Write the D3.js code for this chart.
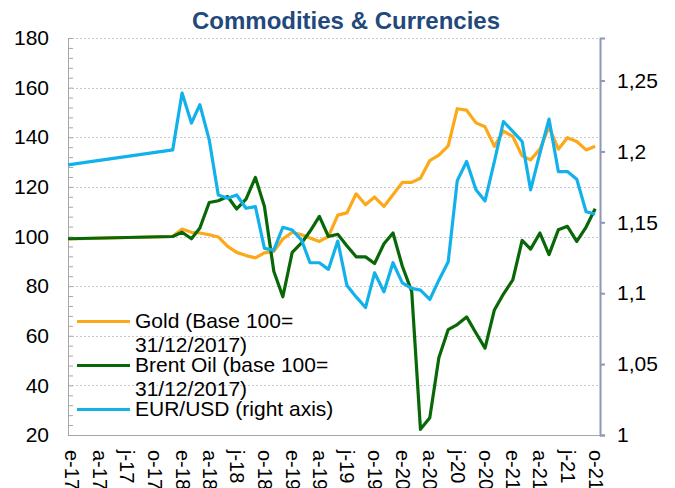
<!DOCTYPE html>
<html>

<head>
    <meta charset="utf-8" />
    <title>Commodities & Currencies</title>
    <script src="https://cdn.jsdelivr.net/npm/d3@7/dist/d3.min.js" charset="utf-8"></script>

    <style type="text/css">
        body {
            margin: 0;
            background: #fff;
        }

        #chart text {
            font-family: "Liberation Sans", Arial, sans-serif;
            fill: #000;
        }

        #chart .line {
            fill: none;
            stroke-width: 3.2px;
            stroke-linejoin: round;
        }

        #chart .grid line {
            stroke: #c8c8c8;
            stroke-dasharray: 2, 2;
        }
    </style>
</head>

<body>

    <div id="chart"></div>

    <script>
        // Provide data (one entry per date):
        var dates = ["2016-12-19", "2017-12-01",
            "2018-01-01", "2018-02-01", "2018-03-01", "2018-04-01", "2018-05-01", "2018-06-01",
            "2018-07-01", "2018-08-01", "2018-09-01", "2018-10-01", "2018-11-01", "2018-12-01",
            "2019-01-01", "2019-02-01", "2019-03-01", "2019-04-01", "2019-05-01", "2019-06-01",
            "2019-07-01", "2019-08-01", "2019-09-01", "2019-10-01", "2019-11-01", "2019-12-01",
            "2020-01-01", "2020-02-01", "2020-03-01", "2020-04-01", "2020-05-01", "2020-06-01",
            "2020-07-01", "2020-08-01", "2020-09-01", "2020-10-01", "2020-11-01", "2020-12-01",
            "2021-01-01", "2021-02-01", "2021-03-01", "2021-04-01", "2021-05-01", "2021-06-01",
            "2021-07-01", "2021-08-01", "2021-09-01", "2021-10-01"
        ]

        var gold = [99, 100,
            103.0, 101.7, 101.4, 100.7, 99.8, 96.0, 93.6, 92.3, 91.4, 93.4, 94.0, 99.0,
            101.7, 100.7, 99.4, 98.0, 100.0, 108.6, 109.5, 117.2, 112.8, 115.9, 112.1, 116.8,
            121.8, 121.8, 123.5, 130.6, 132.8, 136.5, 151.5, 150.9, 145.8, 144.2, 136.3, 142.5,
            140.3, 132.5, 130.9, 135.2, 144.2, 135.2, 139.8, 138.3, 134.9, 136.4
        ]

        var brent = [99.1, 100,
            101.7, 99.1, 103.4, 113.7, 114.4, 116.1, 111.1, 115.1, 123.8, 112.1, 86.0, 75.7,
            93.6, 97.4, 102.1, 108.1, 100.0, 100.9, 96.3, 91.8, 91.8, 89.1, 97.1, 101.4,
            88.0, 77.9, 22.3, 27.0, 51.1, 62.5, 64.5, 67.6, 61.1, 55.0, 70.4, 76.8,
            82.5, 98.4, 94.9, 101.4, 92.7, 102.7, 104.1, 98.0, 103.8, 111.2
        ]

        var eurusd = [1.1905, 1.2011,
            1.2412, 1.2200, 1.2330, 1.2082, 1.1693, 1.1670, 1.1693, 1.1599, 1.1611, 1.1316, 1.1304, 1.1465,
            1.1446, 1.1375, 1.1215, 1.1215, 1.1168, 1.1368, 1.1057, 1.0974, 1.0899, 1.1144, 1.1010, 1.1215,
            1.1073, 1.1034, 1.1022, 1.0956, 1.1092, 1.1222, 1.1794, 1.1929, 1.1729, 1.1651, 1.1929, 1.2211,
            1.2141, 1.2070, 1.1729, 1.1988, 1.2228, 1.1858, 1.1858, 1.1804, 1.1575, 1.1559
        ]

        // Tick values and labels:
        var xTicks = ["2017-01-01", "2017-04-01", "2017-07-01", "2017-10-01",
            "2018-01-01", "2018-04-01", "2018-07-01", "2018-10-01",
            "2019-01-01", "2019-04-01", "2019-07-01", "2019-10-01",
            "2020-01-01", "2020-04-01", "2020-07-01", "2020-10-01",
            "2021-01-01", "2021-04-01", "2021-07-01", "2021-10-01"
        ]
        var xTickLabels = ["e-17", "a-17", "j-17", "o-17", "e-18", "a-18", "j-18", "o-18",
            "e-19", "a-19", "j-19", "o-19", "e-20", "a-20", "j-20", "o-20",
            "e-21", "a-21", "j-21", "o-21"
        ]
        var leftTicks = [20, 40, 60, 80, 100, 120, 140, 160, 180]
        var rightTicks = [1, 1.05, 1.1, 1.15, 1.2, 1.25]

        var seriesNames = [
            ["Gold (Base 100=", "31/12/2017)"],
            ["Brent Oil (base 100=", "31/12/2017)"],
            ["EUR/USD (right axis)"]
        ]
        var seriesColors = ["#fca919", "#086808", "#13b1ec"]

        // Define dimensions:
        var width = 675,
            height = 488,
            plot = {
                left: 68,
                right: 600,
                top: 38,
                bottom: 435
            }

        var parse = d3.timeParse("%Y-%m-%d")
        var rows = dates.map(function(d, i) {
            return {
                date: parse(d),
                gold: gold[i],
                brent: brent[i],
                eurusd: eurusd[i]
            }
        })

        // Define scales:
        var xScale = d3.scaleTime()
            .domain([parse("2016-12-19"), parse("2021-10-17")])
            .range([plot.left, plot.right])

        var yLeft = d3.scaleLinear()
            .domain([20, 180])
            .range([plot.bottom, plot.top])

        var yRight = d3.scaleLinear()
            .domain([1, 1.28])
            .range([plot.bottom, plot.top])

        // Create chart:
        var svg = d3.select("#chart")
            .append("svg")
            .attr("width", width)
            .attr("height", height)

        // Title:
        svg.append("text")
            .attr("x", 346)
            .attr("y", 29)
            .attr("text-anchor", "middle")
            .style("font-size", "24px")
            .style("font-weight", "bold")
            .style("fill", "#22487c")
            .text("Commodities & Currencies")

        // Gridlines:
        svg.append("g")
            .attr("class", "grid")
            .selectAll("line")
            .data(leftTicks.filter(function(d) { return d > 20 }))
            .enter().append("line")
            .attr("x1", plot.left)
            .attr("x2", plot.right)
            .attr("y1", function(d) { return Math.round(yLeft(d)) + 0.5 })
            .attr("y2", function(d) { return Math.round(yLeft(d)) + 0.5 })

        // Left axis (minor ticks inside, labels outside):
        var leftMinor = svg.append("g")
            .attr("transform", "translate(" + plot.left + ",0)")
            .call(d3.axisLeft(yLeft).tickValues(d3.range(20, 181, 4)).tickSize(-5).tickFormat(""))
        leftMinor.selectAll("line, path").attr("stroke", "#a6a6a6")

        var leftLabels = svg.append("g")
            .attr("transform", "translate(" + plot.left + ",0)")
            .call(d3.axisLeft(yLeft).tickValues(leftTicks).tickSize(0).tickPadding(19))
        leftLabels.select(".domain").remove()
        leftLabels.selectAll("text").style("font-size", "21px")

        // Right axis:
        var commaFormat = function(d) {
            return d3.format(".2~f")(d).replace(".", ",")
        }
        var rightAxis = svg.append("g")
            .attr("transform", "translate(" + plot.right + ",0)")
            .call(d3.axisRight(yRight).tickValues(rightTicks).tickSize(5).tickPadding(12).tickFormat(commaFormat))
        rightAxis.selectAll("line, path").attr("stroke", "#8e98b6").attr("stroke-width", 2)
        rightAxis.selectAll("text").style("font-size", "21px")

        // Bottom axis:
        var bottomAxis = svg.append("g")
            .attr("transform", "translate(0," + plot.bottom + ")")
            .call(d3.axisBottom(xScale)
                .tickValues(xTicks.map(parse))
                .tickSize(0)
                .tickFormat(function(d, i) { return xTickLabels[i] }))
        bottomAxis.select(".domain").attr("stroke", "#a6a6a6")
        bottomAxis.selectAll("text")
            .attr("y", 0)
            .attr("x", 0)
            .attr("dy", "0.35em")
            .attr("transform", "translate(0,15) rotate(90)")
            .attr("text-anchor", "start")
            .style("font-size", "20px")

        // Define lines:
        var goldLine = d3.line()
            .x(function(d) { return xScale(d.date) })
            .y(function(d) { return yLeft(d.gold) })

        var brentLine = d3.line()
            .x(function(d) { return xScale(d.date) })
            .y(function(d) { return yLeft(d.brent) })

        var eurLine = d3.line()
            .x(function(d) { return xScale(d.date) })
            .y(function(d) { return yRight(d.eurusd) })

        // Add lines to chart:
        svg.append("path")
            .data([rows])
            .attr("class", "line")
            .attr("d", goldLine)
            .style("stroke", seriesColors[0])

        svg.append("path")
            .data([rows])
            .attr("class", "line")
            .attr("d", brentLine)
            .style("stroke", seriesColors[1])

        svg.append("path")
            .data([rows])
            .attr("class", "line")
            .attr("d", eurLine)
            .style("stroke", seriesColors[2])

        // Legend:
        var legend = svg.append("g")
        var entryTop = [328, 372, 416]
        seriesNames.forEach(function(lines, i) {
            legend.append("line")
                .attr("x1", 77)
                .attr("x2", 130)
                .attr("y1", entryTop[i] - 6.5)
                .attr("y2", entryTop[i] - 6.5)
                .attr("stroke", seriesColors[i])
                .attr("stroke-width", 3.2)
            lines.forEach(function(t, j) {
                legend.append("text")
                    .attr("x", 135)
                    .attr("y", entryTop[i] + j * 23.5)
                    .style("font-size", "21px")
                    .text(t)
            })
        })
    </script>

</body>

</html>
